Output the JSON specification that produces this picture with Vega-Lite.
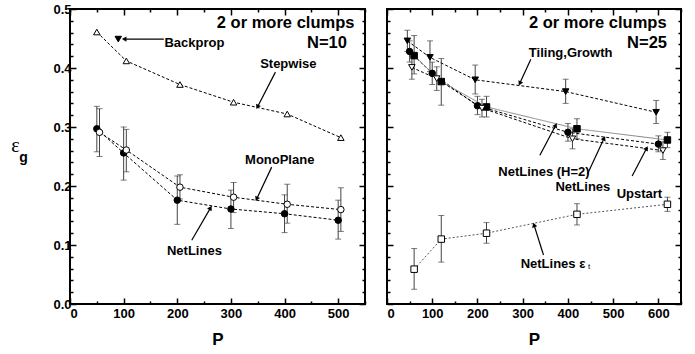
{
  "$schema": "https://vega.github.io/schema/vega-lite/v6.json",
  "background": "white",
  "padding": {"left": 9, "top": 2, "right": 17, "bottom": 4},
  "spacing": 18,
  "resolve": {"scale": {"shape": "independent", "fill": "independent", "color": "independent", "strokeDash": "independent", "x": "independent"}},
  "config": {
    "view": {"stroke": "black", "strokeWidth": 2},
    "font": "Liberation Sans",
    "axis": {"domain": false, "grid": false, "tickColor": "black", "tickWidth": 1.5, "labelFont": "Liberation Sans", "labelFontWeight": "bold", "labelFontSize": 13, "labelColor": "black", "titleFont": "Liberation Sans", "titleFontWeight": "bold", "titleColor": "black"}
  },
  "datasets": {
    "left": [
      {"series": "NetLines", "P": 50, "eg": 0.297, "lo": 0.258, "hi": 0.335},
      {"series": "NetLines", "P": 100, "eg": 0.256, "lo": 0.210, "hi": 0.300},
      {"series": "NetLines", "P": 200, "eg": 0.176, "lo": 0.135, "hi": 0.217},
      {"series": "NetLines", "P": 300, "eg": 0.161, "lo": 0.128, "hi": 0.193},
      {"series": "NetLines", "P": 400, "eg": 0.153, "lo": 0.121, "hi": 0.185},
      {"series": "NetLines", "P": 500, "eg": 0.142, "lo": 0.110, "hi": 0.176},
      {"series": "MonoPlane", "P": 55, "eg": 0.291, "lo": 0.250, "hi": 0.331},
      {"series": "MonoPlane", "P": 105, "eg": 0.261, "lo": 0.224, "hi": 0.296},
      {"series": "MonoPlane", "P": 205, "eg": 0.198, "lo": 0.178, "hi": 0.219},
      {"series": "MonoPlane", "P": 305, "eg": 0.181, "lo": 0.155, "hi": 0.206},
      {"series": "MonoPlane", "P": 405, "eg": 0.169, "lo": 0.137, "hi": 0.203},
      {"series": "MonoPlane", "P": 505, "eg": 0.160, "lo": 0.123, "hi": 0.197},
      {"series": "Stepwise", "P": 50, "eg": 0.461},
      {"series": "Stepwise", "P": 105, "eg": 0.412},
      {"series": "Stepwise", "P": 205, "eg": 0.372},
      {"series": "Stepwise", "P": 305, "eg": 0.342},
      {"series": "Stepwise", "P": 405, "eg": 0.322},
      {"series": "Stepwise", "P": 505, "eg": 0.282},
      {"series": "Backprop", "P": 90, "eg": 0.449}
    ],
    "right": [
      {"series": "Tiling", "P": 45, "eg": 0.446, "lo": 0.428, "hi": 0.464},
      {"series": "Tiling", "P": 95, "eg": 0.418, "lo": 0.394, "hi": 0.446},
      {"series": "Tiling", "P": 195, "eg": 0.380, "lo": 0.356, "hi": 0.405},
      {"series": "Tiling", "P": 395, "eg": 0.360, "lo": 0.340, "hi": 0.381},
      {"series": "Tiling", "P": 595, "eg": 0.325, "lo": 0.306, "hi": 0.345},
      {"series": "NetLines", "P": 50, "eg": 0.428, "lo": 0.410, "hi": 0.446},
      {"series": "NetLines", "P": 100, "eg": 0.391, "lo": 0.372, "hi": 0.410},
      {"series": "NetLines", "P": 200, "eg": 0.336, "lo": 0.321, "hi": 0.352},
      {"series": "NetLines", "P": 400, "eg": 0.291, "lo": 0.276, "hi": 0.306},
      {"series": "NetLines", "P": 600, "eg": 0.271, "lo": 0.258, "hi": 0.285},
      {"series": "NetLinesH2", "P": 60, "eg": 0.421, "lo": 0.390, "hi": 0.455},
      {"series": "NetLinesH2", "P": 120, "eg": 0.377, "lo": 0.337, "hi": 0.416},
      {"series": "NetLinesH2", "P": 220, "eg": 0.334, "lo": 0.317, "hi": 0.352},
      {"series": "NetLinesH2", "P": 420, "eg": 0.297, "lo": 0.280, "hi": 0.314},
      {"series": "NetLinesH2", "P": 620, "eg": 0.278, "lo": 0.265, "hi": 0.291},
      {"series": "Upstart", "P": 55, "eg": 0.401, "lo": 0.381, "hi": 0.420},
      {"series": "Upstart", "P": 110, "eg": 0.382, "lo": 0.362, "hi": 0.402},
      {"series": "Upstart", "P": 210, "eg": 0.332, "lo": 0.317, "hi": 0.347},
      {"series": "Upstart", "P": 410, "eg": 0.280, "lo": 0.263, "hi": 0.297},
      {"series": "Upstart", "P": 610, "eg": 0.260, "lo": 0.245, "hi": 0.275},
      {"series": "NetLinesEt", "P": 60, "eg": 0.059, "lo": 0.025, "hi": 0.094},
      {"series": "NetLinesEt", "P": 120, "eg": 0.110, "lo": 0.071, "hi": 0.150},
      {"series": "NetLinesEt", "P": 220, "eg": 0.120, "lo": 0.103, "hi": 0.138},
      {"series": "NetLinesEt", "P": 420, "eg": 0.152, "lo": 0.134, "hi": 0.170},
      {"series": "NetLinesEt", "P": 620, "eg": 0.169, "lo": 0.157, "hi": 0.181}
    ],
    "leftNotes": [
      {"kind": "title", "label": "2 or more clumps", "P": 402, "eg": 0.476},
      {"kind": "title", "label": "N=10", "P": 479, "eg": 0.442},
      {"kind": "label", "label": "Backprop", "P": 232, "eg": 0.442},
      {"kind": "label", "label": "Stepwise", "P": 407, "eg": 0.406},
      {"kind": "label", "label": "MonoPlane", "P": 391, "eg": 0.244},
      {"kind": "label", "label": "NetLines", "P": 232, "eg": 0.089}
    ],
    "rightNotes": [
      {"kind": "title", "label": "2 or more clumps", "P": 466, "eg": 0.476},
      {"kind": "title", "label": "N=25", "P": 575, "eg": 0.442},
      {"kind": "label", "label": "Tiling,Growth", "P": 406, "eg": 0.425},
      {"kind": "label", "label": "NetLines (H=2)", "P": 347, "eg": 0.2245},
      {"kind": "label", "label": "NetLines", "P": 433, "eg": 0.1985},
      {"kind": "label", "label": "Upstart", "P": 558, "eg": 0.1866},
      {"kind": "label", "label": "NetLines ε", "P": 367, "eg": 0.068},
      {"kind": "sub", "label": "t", "P": 447, "eg": 0.062}
    ],
    "leftArrows": [
      {"P": 175, "eg": 0.449, "P2": 101, "eg2": 0.449, "angle": 270},
      {"P": 383, "eg": 0.393, "P2": 349.5, "eg2": 0.334, "angle": 207},
      {"P": 376, "eg": 0.232, "P2": 348, "eg2": 0.178, "angle": 205},
      {"P": 227, "eg": 0.108, "P2": 262, "eg2": 0.163, "angle": 31}
    ],
    "rightArrows": [
      {"P": 318, "eg": 0.415, "P2": 293.6, "eg2": 0.374, "angle": 205},
      {"P": 338, "eg": 0.252, "P2": 373, "eg2": 0.303, "angle": 27},
      {"P": 443, "eg": 0.220, "P2": 480, "eg2": 0.281, "angle": 25},
      {"P": 542, "eg": 0.217, "P2": 574, "eg2": 0.264, "angle": 28},
      {"P": 346, "eg": 0.083, "P2": 325, "eg2": 0.134, "angle": 343}
    ]
  },
  "hconcat": [
    {
      "width": 295,
      "height": 295,
      "resolve": {"axis": {"x": "independent", "y": "independent"}},
      "layer": [
        {
          "data": {"name": "left"},
          "transform": [{"filter": "isValid(datum.lo)"}],
          "mark": {"type": "errorbar", "ticks": {"size": 6}, "color": "#444444", "thickness": 1},
          "encoding": {
            "x": {"field": "P", "type": "quantitative", "scale": {"domain": [0, 550], "nice": false},
              "axis": {"orient": "bottom", "values": [0,50,100,150,200,250,300,350,400,450,500,550], "labelExpr": "datum.value % 100 === 0 ? datum.label : ''", "tickSize": {"condition": {"test": "datum.value % 100 === 0", "value": -6}, "value": -3}, "labelPadding": 9, "title": "P", "titleFontSize": 17, "titlePadding": 11}},
            "y": {"field": "lo", "type": "quantitative", "scale": {"domain": [0, 0.5], "nice": false},
              "axis": {"orient": "left", "values": [0,0.02,0.04,0.06,0.08,0.1,0.12,0.14,0.16,0.18,0.2,0.22,0.24,0.26,0.28,0.3,0.32,0.34,0.36,0.38,0.4,0.42,0.44,0.46,0.48,0.5], "labelExpr": "round(datum.value*100) % 10 === 0 ? format(datum.value, '.1f') : ''", "tickSize": {"condition": {"test": "round(datum.value*100) % 10 === 0", "value": -6}, "value": -3}, "labelPadding": 5, "title": "ε", "titleFont": "Liberation Serif", "titleFontWeight": "normal", "titleFontSize": 20, "titleAngle": 0, "titleAlign": "center", "titleBaseline": "middle", "titleX": -55, "titleY": 136}},
            "y2": {"field": "hi"}
          }
        },
        {
          "data": {"name": "left"},
          "transform": [{"filter": "datum.series !== 'Backprop'"}],
          "mark": {"type": "line", "strokeWidth": 1, "strokeDash": [3, 2], "color": "black"},
          "encoding": {
            "x": {"field": "P", "type": "quantitative",
              "axis": {"orient": "top", "values": [0,50,100,150,200,250,300,350,400,450,500,550], "labels": false, "tickSize": {"condition": {"test": "datum.value % 100 === 0", "value": -6}, "value": -3}, "title": null}},
            "y": {"field": "eg", "type": "quantitative",
              "axis": {"orient": "right", "values": [0,0.02,0.04,0.06,0.08,0.1,0.12,0.14,0.16,0.18,0.2,0.22,0.24,0.26,0.28,0.3,0.32,0.34,0.36,0.38,0.4,0.42,0.44,0.46,0.48,0.5], "labels": false, "tickSize": {"condition": {"test": "round(datum.value*100) % 10 === 0", "value": -6}, "value": -3}, "title": null}},
            "detail": {"field": "series"},
            "order": {"field": "P", "type": "quantitative"}
          }
        },
        {
          "data": {"name": "left"},
          "mark": {"type": "point", "filled": true, "stroke": "black", "strokeWidth": 1, "size": 42, "opacity": 1},
          "encoding": {
            "x": {"field": "P", "type": "quantitative", "axis": null},
            "y": {"field": "eg", "type": "quantitative",
              "axis": {"orient": "left", "labels": false, "ticks": false, "values": [], "title": "g", "titleFontSize": 14, "titleAngle": 0, "titleAlign": "center", "titleBaseline": "middle", "titleX": -47, "titleY": 148}},
            "shape": {"field": "series", "type": "nominal", "legend": null,
              "scale": {"domain": ["NetLines", "MonoPlane", "Stepwise", "Backprop"], "range": ["circle", "circle", "triangle-up", "triangle-down"]}},
            "fill": {"field": "series", "type": "nominal", "legend": null,
              "scale": {"domain": ["NetLines", "MonoPlane", "Stepwise", "Backprop"], "range": ["black", "white", "white", "black"]}}
          }
        },
        {
          "data": {"name": "leftArrows"},
          "mark": {"type": "rule", "color": "black", "strokeWidth": 1.2},
          "encoding": {
            "x": {"field": "P", "type": "quantitative", "axis": null},
            "y": {"field": "eg", "type": "quantitative", "axis": null},
            "x2": {"field": "P2"},
            "y2": {"field": "eg2"}
          }
        },
        {
          "data": {"name": "leftArrows"},
          "mark": {"type": "point", "shape": "triangle-up", "filled": true, "color": "black", "size": 28, "opacity": 1},
          "encoding": {
            "x": {"field": "P2", "type": "quantitative", "axis": null},
            "y": {"field": "eg2", "type": "quantitative", "axis": null},
            "angle": {"field": "angle", "type": "quantitative", "scale": null}
          }
        },
        {
          "data": {"name": "leftNotes"},
          "transform": [{"filter": "datum.kind === 'title'"}],
          "mark": {"type": "text", "font": "Liberation Sans", "fontWeight": "bold", "fontSize": 16.5, "baseline": "middle", "align": "center"},
          "encoding": {
            "x": {"field": "P", "type": "quantitative", "axis": null},
            "y": {"field": "eg", "type": "quantitative", "axis": null},
            "text": {"field": "label"}
          }
        },
        {
          "data": {"name": "leftNotes"},
          "transform": [{"filter": "datum.kind === 'label'"}],
          "mark": {"type": "text", "font": "Liberation Sans", "fontWeight": "bold", "fontSize": 13, "baseline": "middle", "align": "center"},
          "encoding": {
            "x": {"field": "P", "type": "quantitative", "axis": null},
            "y": {"field": "eg", "type": "quantitative", "axis": null},
            "text": {"field": "label"}
          }
        }
      ]
    },
    {
      "width": 294,
      "height": 295,
      "resolve": {"axis": {"x": "independent", "y": "independent"}},
      "layer": [
        {
          "data": {"name": "right"},
          "mark": {"type": "errorbar", "ticks": {"size": 6}, "color": "#444444", "thickness": 1},
          "encoding": {
            "x": {"field": "P", "type": "quantitative", "scale": {"domain": [0, 650], "nice": false},
              "axis": {"orient": "bottom", "values": [0,50,100,150,200,250,300,350,400,450,500,550,600,650], "labelExpr": "datum.value % 100 === 0 ? datum.label : ''", "tickSize": {"condition": {"test": "datum.value % 100 === 0", "value": -6}, "value": -3}, "labelPadding": 9, "title": "P", "titleFontSize": 17, "titlePadding": 11}},
            "y": {"field": "lo", "type": "quantitative", "scale": {"domain": [0, 0.5], "nice": false},
              "axis": {"orient": "left", "values": [0,0.02,0.04,0.06,0.08,0.1,0.12,0.14,0.16,0.18,0.2,0.22,0.24,0.26,0.28,0.3,0.32,0.34,0.36,0.38,0.4,0.42,0.44,0.46,0.48,0.5], "labels": false, "tickSize": {"condition": {"test": "round(datum.value*100) % 10 === 0", "value": -6}, "value": -3}, "title": null}},
            "y2": {"field": "hi"}
          }
        },
        {
          "data": {"name": "right"},
          "mark": {"type": "line", "strokeWidth": 1, "color": "black"},
          "encoding": {
            "x": {"field": "P", "type": "quantitative",
              "axis": {"orient": "top", "values": [0,50,100,150,200,250,300,350,400,450,500,550,600,650], "labels": false, "tickSize": {"condition": {"test": "datum.value % 100 === 0", "value": -6}, "value": -3}, "title": null}},
            "y": {"field": "eg", "type": "quantitative",
              "axis": {"orient": "right", "values": [0,0.02,0.04,0.06,0.08,0.1,0.12,0.14,0.16,0.18,0.2,0.22,0.24,0.26,0.28,0.3,0.32,0.34,0.36,0.38,0.4,0.42,0.44,0.46,0.48,0.5], "labels": false, "tickSize": {"condition": {"test": "round(datum.value*100) % 10 === 0", "value": -6}, "value": -3}, "title": null}},
            "detail": {"field": "series"},
            "color": {"field": "series", "type": "nominal", "legend": null,
              "scale": {"domain": ["Tiling", "NetLines", "NetLinesH2", "Upstart", "NetLinesEt"], "range": ["black", "black", "#888888", "black", "#555555"]}},
            "strokeDash": {"field": "series", "type": "nominal", "legend": null,
              "scale": {"domain": ["Tiling", "NetLines", "NetLinesH2", "Upstart", "NetLinesEt"], "range": [[3, 2], [3, 2], [1, 0], [3, 2], [2, 2]]}},
            "order": {"field": "P", "type": "quantitative"}
          }
        },
        {
          "data": {"name": "right"},
          "mark": {"type": "point", "filled": true, "stroke": "black", "strokeWidth": 1, "size": 42, "opacity": 1},
          "encoding": {
            "x": {"field": "P", "type": "quantitative", "axis": null},
            "y": {"field": "eg", "type": "quantitative", "axis": null},
            "shape": {"field": "series", "type": "nominal", "legend": null,
              "scale": {"domain": ["Tiling", "NetLines", "NetLinesH2", "Upstart", "NetLinesEt"], "range": ["triangle-down", "circle", "square", "triangle-down", "square"]}},
            "fill": {"field": "series", "type": "nominal", "legend": null,
              "scale": {"domain": ["Tiling", "NetLines", "NetLinesH2", "Upstart", "NetLinesEt"], "range": ["black", "black", "black", "white", "white"]}}
          }
        },
        {
          "data": {"name": "rightArrows"},
          "mark": {"type": "rule", "color": "black", "strokeWidth": 1.2},
          "encoding": {
            "x": {"field": "P", "type": "quantitative", "axis": null},
            "y": {"field": "eg", "type": "quantitative", "axis": null},
            "x2": {"field": "P2"},
            "y2": {"field": "eg2"}
          }
        },
        {
          "data": {"name": "rightArrows"},
          "mark": {"type": "point", "shape": "triangle-up", "filled": true, "color": "black", "size": 28, "opacity": 1},
          "encoding": {
            "x": {"field": "P2", "type": "quantitative", "axis": null},
            "y": {"field": "eg2", "type": "quantitative", "axis": null},
            "angle": {"field": "angle", "type": "quantitative", "scale": null}
          }
        },
        {
          "data": {"name": "rightNotes"},
          "transform": [{"filter": "datum.kind === 'title'"}],
          "mark": {"type": "text", "font": "Liberation Sans", "fontWeight": "bold", "fontSize": 16.5, "baseline": "middle", "align": "center"},
          "encoding": {
            "x": {"field": "P", "type": "quantitative", "axis": null},
            "y": {"field": "eg", "type": "quantitative", "axis": null},
            "text": {"field": "label"}
          }
        },
        {
          "data": {"name": "rightNotes"},
          "transform": [{"filter": "datum.kind === 'label'"}],
          "mark": {"type": "text", "font": "Liberation Sans", "fontWeight": "bold", "fontSize": 13, "baseline": "middle", "align": "center"},
          "encoding": {
            "x": {"field": "P", "type": "quantitative", "axis": null},
            "y": {"field": "eg", "type": "quantitative", "axis": null},
            "text": {"field": "label"}
          }
        },
        {
          "data": {"name": "rightNotes"},
          "transform": [{"filter": "datum.kind === 'sub'"}],
          "mark": {"type": "text", "font": "Liberation Sans", "fontSize": 8, "baseline": "middle", "align": "center"},
          "encoding": {
            "x": {"field": "P", "type": "quantitative", "axis": null},
            "y": {"field": "eg", "type": "quantitative", "axis": null},
            "text": {"field": "label"}
          }
        }
      ]
    }
  ]
}
